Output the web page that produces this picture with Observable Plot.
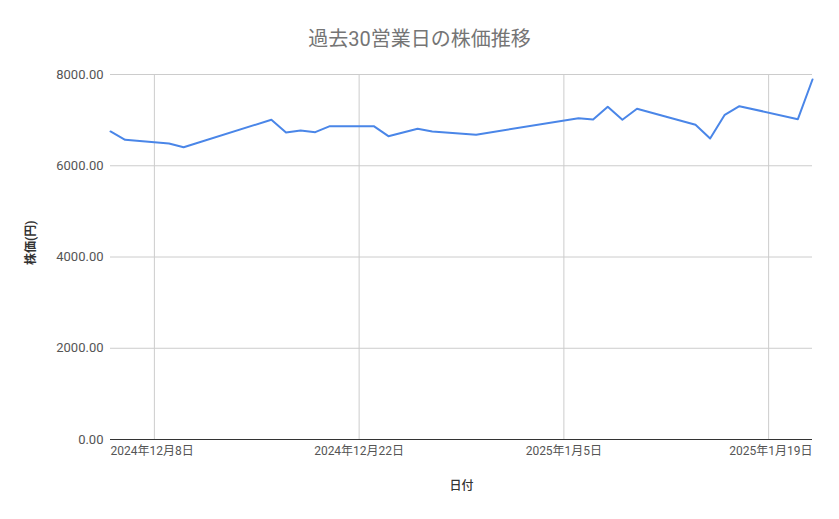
<!DOCTYPE html>
<html>
<head>
<meta charset="utf-8">
<script src="https://cdn.jsdelivr.net/npm/d3@7"></script>
<script src="https://cdn.jsdelivr.net/npm/@observablehq/plot@0.6"></script>
<style>
  html, body { margin: 0; padding: 0; background: #fff; }
  body { font-family: Roboto, "Noto Sans CJK JP", sans-serif; width: 839px; }
  #title { height: 60px; box-sizing: border-box; padding-top: 27px; font-size: 20px; line-height: 24px; color: #757575; text-align: center; }
</style>
</head>
<body>
<div id="title">過去30営業日の株価推移</div>
<div id="chart"></div>
<script>
const dates = ["2024-12-05","2024-12-06","2024-12-09","2024-12-10","2024-12-16","2024-12-17","2024-12-18","2024-12-19","2024-12-20","2024-12-23","2024-12-24","2024-12-26","2024-12-27","2024-12-30","2025-01-06","2025-01-07","2025-01-08","2025-01-09","2025-01-10","2025-01-14","2025-01-15","2025-01-16","2025-01-17","2025-01-21","2025-01-22"];
const prices = [6751,6569,6488,6407,7008,6729,6773,6736,6868,6868,6648,6810,6751,6679,7043,7014,7293,7008,7249,6898,6598,7117,7306,7021,7891];
const xTicks = ["2024-12-08","2024-12-22","2025-01-05","2025-01-19"];
const xTickLabels = ["2024年12月8日","2024年12月22日","2025年1月5日","2025年1月19日"];
const yTicks = [0,2000,4000,6000,8000];
const xLabel = "日付";
const yLabel = "株価(円)";

const data = dates.map((d, i) => ({date: new Date(d), price: prices[i]}));
const xTickDates = xTicks.map(d => new Date(d));
const labelOf = new Map(xTicks.map((d, i) => [+new Date(d), xTickLabels[i]]));
const font = 'Roboto, "Noto Sans CJK JP", sans-serif';

const chart = Plot.plot({
  width: 839,
  height: 459,
  marginLeft: 110,
  marginRight: 27,
  marginTop: 14,
  marginBottom: 80,
  style: {fontFamily: font, fontSize: "12px", background: "#fff"},
  x: {type: "utc", domain: [data[0].date, data[data.length - 1].date], label: null},
  y: {domain: [0, 8000], label: null},
  marks: [
    Plot.gridY(yTicks, {stroke: "#cccccc", strokeOpacity: 1}),
    Plot.gridX(xTickDates, {stroke: "#cccccc", strokeOpacity: 1}),
    Plot.axisY(yTicks, {tickSize: 0, tickPadding: 7, tickFormat: d3.format(".2f"), fill: "#555", fontSize: 13, label: null}),
    Plot.axisX(xTickDates.slice(1, -1), {tickSize: 0, tickPadding: 7, tickFormat: d => labelOf.get(+d), fill: "#555", fontSize: 12, label: null}),
    Plot.text([xTickLabels[0]], {frameAnchor: "bottom-left", textAnchor: "start", lineAnchor: "top", dy: 7, fill: "#555", fontSize: 12}),
    Plot.text([xTickLabels[xTickLabels.length - 1]], {frameAnchor: "bottom-right", textAnchor: "end", lineAnchor: "top", dy: 7, fill: "#555", fontSize: 12}),
    Plot.ruleY([0], {stroke: "#333", strokeWidth: 1}),
    Plot.line(data, {x: "date", y: "price", stroke: "#4a86e8", strokeWidth: 2}),
    Plot.text([xLabel], {frameAnchor: "bottom", lineAnchor: "middle", dy: 47, fill: "#333", fontSize: 12, fontWeight: 500}),
    Plot.text([yLabel], {frameAnchor: "left", rotate: -90, dx: -79, dy: 8, fill: "#333", fontSize: 12, fontWeight: "bold"})
  ]
});
document.getElementById("chart").appendChild(chart);
</script>
</body>
</html>
